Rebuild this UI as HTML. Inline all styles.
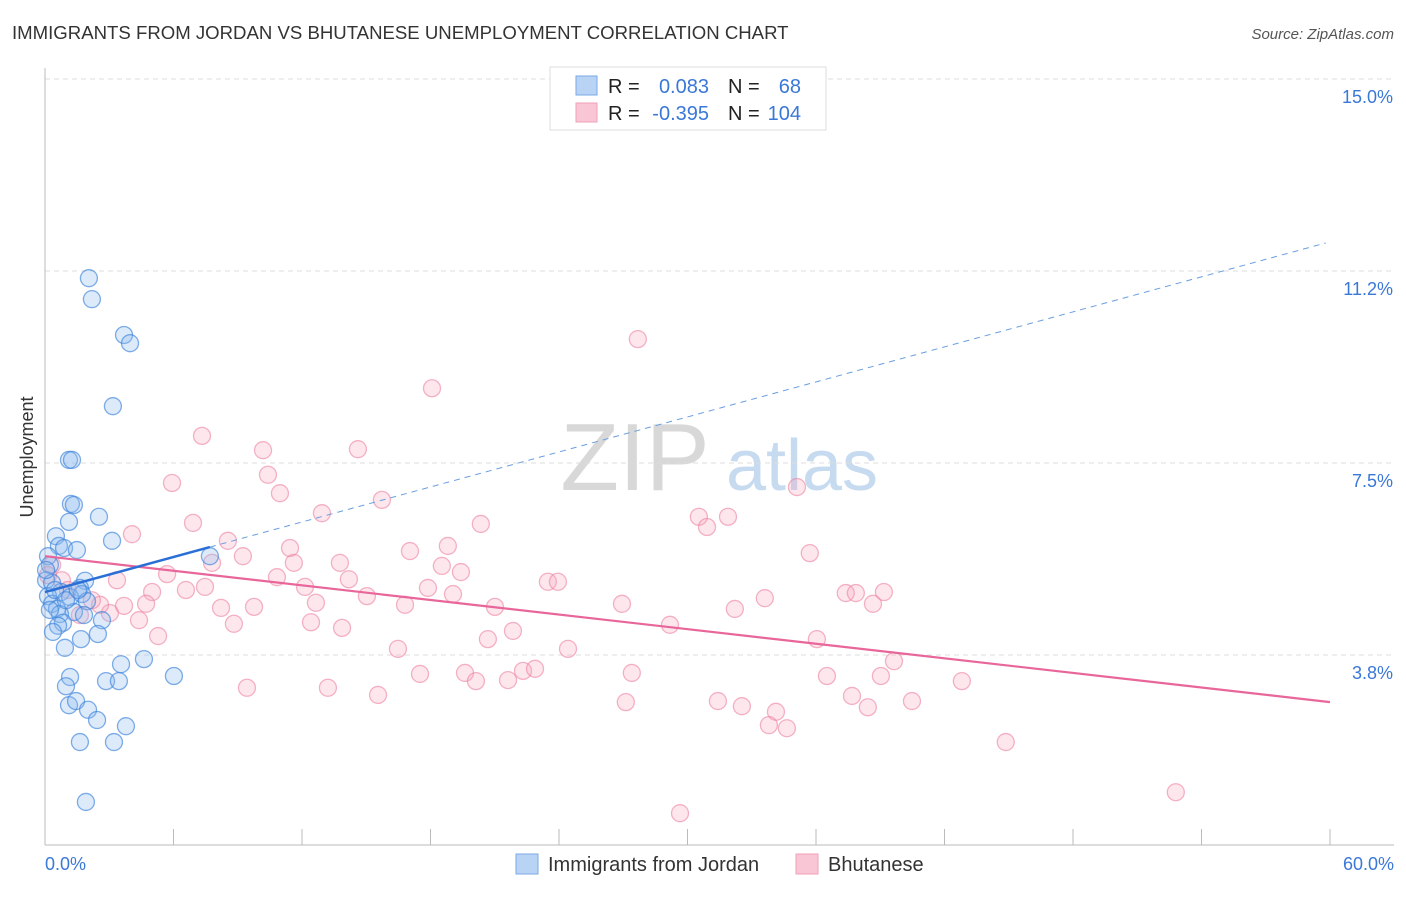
<!DOCTYPE html>
<html><head><meta charset="utf-8">
<style>
body{margin:0;background:#fff;font-family:"Liberation Sans",sans-serif;}
svg text{font-family:"Liberation Sans",sans-serif;}
</style></head>
<body>
<svg id="chart" width="1406" height="892" xmlns="http://www.w3.org/2000/svg">
<text x="12" y="39" font-size="18.6" fill="#333">IMMIGRANTS FROM JORDAN VS BHUTANESE UNEMPLOYMENT CORRELATION CHART</text>
<text x="1394" y="39" font-size="15" fill="#555" text-anchor="end" font-style="italic">Source: ZipAtlas.com</text>
<g>
<text x="635" y="490" font-size="96" fill="#d8d8d8" font-family="Liberation Serif" text-anchor="middle">ZIP</text>
<text x="802" y="490" font-size="72" fill="#c6daf0" text-anchor="middle">atlas</text>
</g>
<g id="grid"></g>
<g id="axes"></g>
<g id="marks"></g>
<text transform="translate(33,457) rotate(-90)" font-size="18" fill="#333" text-anchor="middle">Unemployment</text>
<g>
<rect x="550" y="67" width="276" height="63" fill="#fff" stroke="#ddd"/>
<rect x="576" y="76" width="21" height="19" fill="#b9d3f5" stroke="#7aa8e6"/>
<rect x="576" y="103" width="21" height="19" fill="#f9c6d5" stroke="#f0a0b8"/>
<text x="608" y="93" font-size="20" fill="#222">R =</text>
<text x="709" y="93" font-size="20" fill="#3a78d8" text-anchor="end">0.083</text>
<text x="728" y="93" font-size="20" fill="#222">N =</text>
<text x="801" y="93" font-size="20" fill="#3a78d8" text-anchor="end">68</text>
<text x="608" y="120" font-size="20" fill="#222">R =</text>
<text x="709" y="120" font-size="20" fill="#3a78d8" text-anchor="end">-0.395</text>
<text x="728" y="120" font-size="20" fill="#222">N =</text>
<text x="801" y="120" font-size="20" fill="#3a78d8" text-anchor="end">104</text>
</g>
<g>
<rect x="516" y="854" width="22" height="20" fill="#b9d3f5" stroke="#7aa8e6"/>
<text x="548" y="871" font-size="20" fill="#333">Immigrants from Jordan</text>
<rect x="796" y="854" width="22" height="20" fill="#f9c6d5" stroke="#f0a0b8"/>
<text x="828" y="871" font-size="20" fill="#333">Bhutanese</text>
</g>
</svg>
<script>
const yTicks=[3.75,7.5,11.25,15];
const yTickLabels=["3.8%","7.5%","11.2%","15.0%"];
const xTicks=[0,6,12,18,24,30,36,42,48,54,60];
const jordanX=[2.05,2.19,3.69,3.97,3.17,1.12,1.26,1.21,1.35,2.52,1.12,0.51,3.13,0.65,0.89,1.49,0.14,0.23,0.05,0.33,1.87,1.63,0.75,0.14,1.17,1.73,0.33,0.56,1.96,1.35,0.70,1.82,2.66,0.84,0.61,0.37,2.47,1.68,0.93,3.55,4.62,6.02,1.17,2.85,3.45,0.98,1.12,1.45,2.01,2.43,3.78,1.63,3.22,1.91,7.70,0.05,0.47,0.98,1.54,0.23];
const jordanY=[11.11,10.70,10.0,9.84,8.61,7.56,7.56,6.70,6.68,6.45,6.35,6.07,5.98,5.88,5.84,5.80,5.68,5.51,5.21,5.16,5.20,5.06,4.98,4.90,4.88,4.94,4.75,4.65,4.80,4.59,4.55,4.53,4.43,4.38,4.32,4.20,4.16,4.06,3.89,3.57,3.67,3.34,3.32,3.24,3.24,3.14,2.77,2.85,2.68,2.48,2.36,2.05,2.05,0.88,5.68,5.41,5.02,4.82,5.02,4.63];
const bhutanX=[27.68,18.07,7.33,10.18,14.61,5.93,10.41,10.97,15.73,35.11,12.93,6.91,20.35,30.53,31.89,30.91,4.06,8.54,11.44,9.24,17.04,18.81,35.71,7.80,11.62,13.77,18.53,5.70,10.83,14.19,19.42,23.48,23.95,3.36,5.00,6.58,7.47,12.14,17.88,15.03,19.05,37.39,37.86,39.17,38.66,3.69,4.72,8.22,9.76,12.65,16.81,21.01,26.94,32.21,33.61,3.03,4.39,8.82,12.42,13.87,29.18,21.85,20.68,5.28,36.04,16.48,24.42,39.64,17.51,19.61,20.12,21.62,22.32,22.88,27.40,36.51,39.03,42.81,9.43,13.21,15.55,27.12,31.42,32.54,37.68,38.42,40.48,34.13,33.80,34.64,44.86,52.80,29.65,0.33,0.79,1.07,2.57,1.63,2.19,0.14];
const bhutanY=[9.92,8.96,8.03,7.75,7.77,7.11,7.27,6.91,6.78,7.03,6.52,6.33,6.31,6.45,6.45,6.25,6.11,5.98,5.84,5.68,5.78,5.88,5.74,5.55,5.55,5.55,5.49,5.33,5.27,5.23,5.37,5.18,5.18,5.21,4.98,5.02,5.08,5.08,5.06,4.90,4.94,4.96,4.96,4.98,4.75,4.71,4.75,4.67,4.69,4.77,4.73,4.69,4.75,4.65,4.86,4.57,4.43,4.36,4.39,4.28,4.34,4.22,4.06,4.12,4.06,3.87,3.87,3.63,3.38,3.40,3.24,3.26,3.44,3.48,3.40,3.34,3.34,3.24,3.11,3.11,2.97,2.83,2.85,2.75,2.95,2.73,2.85,2.64,2.38,2.32,2.05,1.07,0.66,5.51,5.21,5.02,4.73,4.53,4.82,5.31];
const jordanTrend=[4.98,0.114];
const bhutanTrend=[5.68,-0.0475];
const X0=45,X1=1330,Y0=847,PXPCT=51.2;
const sx=v=>X0+(v/60)*(X1-X0);
const sy=v=>Y0-v*PXPCT;
const NS="http://www.w3.org/2000/svg";
function mk(tag,attrs,parent){const e=document.createElementNS(NS,tag);for(const k in attrs)e.setAttribute(k,attrs[k]);parent.appendChild(e);return e;}
const grid=document.getElementById('grid'),axes=document.getElementById('axes'),marks=document.getElementById('marks');
yTicks.forEach((t,i)=>{
 const l=mk('line',{x1:45,x2:1394,y1:sy(t),y2:sy(t),stroke:'#ddd','stroke-dasharray':'5,4'},grid);
 
 
 const tx=mk('text',{x:1393,y:sy(t)+24,'font-size':18,fill:'#3a78d8','text-anchor':'end'},axes);
 tx.textContent=yTickLabels[i];
 
 
});
const ax=mk('line',{x1:45,x2:45,y1:68,y2:845,stroke:'#bbb'},axes);


const bx=mk('line',{x1:45,x2:1394,y1:845,y2:845,stroke:'#bbb'},axes);


xTicks.forEach(t=>{
 const l=mk('line',{x1:sx(t),x2:sx(t),y1:829,y2:845,stroke:'#bbb'},axes);
 
 
});
const xl0=mk('text',{x:45,y:870,'font-size':18,fill:'#3a78d8'},axes);xl0.textContent=xTicks[0].toFixed(1)+'%';


const xl1=mk('text',{x:1394,y:870,'font-size':18,fill:'#3a78d8','text-anchor':'end'},axes);xl1.textContent=xTicks[xTicks.length-1].toFixed(1)+'%';


bhutanX.forEach((x,i)=>{
 const c=mk('circle',{cx:sx(x),cy:sy(bhutanY[i]),r:8.5,fill:'rgba(246,160,185,0.25)',stroke:'rgba(236,130,160,0.6)','stroke-width':1.3},marks);
 
 
});
jordanX.forEach((x,i)=>{
 const c=mk('circle',{cx:sx(x),cy:sy(jordanY[i]),r:8.5,fill:'rgba(140,185,240,0.3)',stroke:'rgba(60,130,220,0.65)','stroke-width':1.3},marks);
 
 
});
const pl=mk('line',{x1:sx(0),y1:sy(bhutanTrend[0]),x2:sx(60),y2:sy(bhutanTrend[0]+60*bhutanTrend[1]),stroke:'#e8669a','stroke-width':2.2},marks);


const jMax=7.7;
const jd=mk('line',{x1:sx(jMax),y1:sy(jordanTrend[0]+jMax*jordanTrend[1]),x2:sx(59.8),y2:sy(jordanTrend[0]+59.8*jordanTrend[1]),stroke:'#6a9ee0','stroke-width':1,'stroke-dasharray':'6,5'},marks);


const jl=mk('line',{x1:sx(0),y1:sy(jordanTrend[0]),x2:sx(jMax),y2:sy(jordanTrend[0]+jMax*jordanTrend[1]),stroke:'#2a6fd6','stroke-width':2.5},marks);


</script>
</body></html>
